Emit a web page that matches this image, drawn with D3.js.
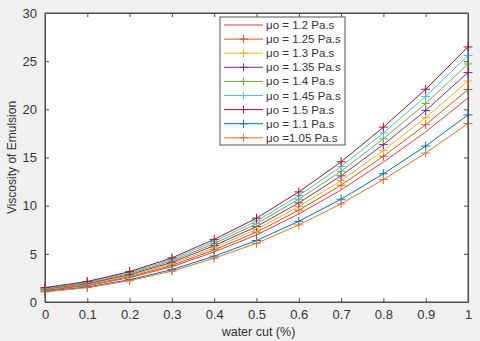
<!DOCTYPE html>
<html><head><meta charset="utf-8">
<script src="https://cdn.jsdelivr.net/npm/d3@7"></script>
<style>
html,body{margin:0;padding:0;background:#f0f0f0;}
svg{display:block;font-family:"Liberation Sans",Arial,sans-serif;}
</style></head>
<body>
<svg id="chart" width="480" height="341"></svg>
<script>
const waterCut = [0, 0.1, 0.2, 0.3, 0.4, 0.5, 0.6, 0.7, 0.8, 0.9, 1];
const xTicks = [0, 0.1, 0.2, 0.3, 0.4, 0.5, 0.6, 0.7, 0.8, 0.9, 1];
const yTicks = [0, 5, 10, 15, 20, 25, 30];
const seriesNames = ["μo = 1.2 Pa.s", "μo = 1.25 Pa.s", "μo = 1.3 Pa.s", "μo = 1.35 Pa.s", "μo = 1.4 Pa.s", "μo = 1.45 Pa.s", "μo = 1.5 Pa.s", "μo = 1.1 Pa.s", "μo =1.05 Pa.s"];
const mu120 = [1.20, 1.70, 2.52, 3.66, 5.20, 6.96, 9.14, 11.64, 14.52, 17.66, 21.18];
const mu125 = [1.25, 1.78, 2.63, 3.81, 5.41, 7.25, 9.53, 12.13, 15.13, 18.40, 22.06];
const mu130 = [1.30, 1.85, 2.73, 3.97, 5.63, 7.54, 9.91, 12.61, 15.73, 19.14, 22.95];
const mu135 = [1.35, 1.92, 2.84, 4.12, 5.85, 7.83, 10.29, 13.10, 16.34, 19.87, 23.83];
const mu140 = [1.40, 1.99, 2.94, 4.27, 6.06, 8.12, 10.67, 13.58, 16.94, 20.61, 24.71];
const mu145 = [1.45, 2.06, 3.05, 4.42, 6.28, 8.41, 11.05, 14.07, 17.55, 21.34, 25.59];
const mu150 = [1.50, 2.13, 3.15, 4.58, 6.50, 8.70, 11.43, 14.55, 18.15, 22.08, 26.48];
const mu110 = [1.10, 1.56, 2.31, 3.36, 4.76, 6.38, 8.38, 10.67, 13.31, 16.19, 19.42];
const mu105 = [1.05, 1.49, 2.21, 3.20, 4.55, 6.09, 8.00, 10.19, 12.71, 15.46, 18.53];
const seriesValues = [mu120, mu125, mu130, mu135, mu140, mu145, mu150, mu110, mu105];
const seriesColors = ["#ef3b3e", "#D95319", "#EDB120", "#7E2F8E", "#77AC30", "#4DBEEE", "#A2142F", "#0072BD", "#E8722E"];
const seriesMarker = [false, true, true, true, true, true, true, true, true];

const svg = d3.select("#chart");
const L = 45, R = 468, T = 13, B = 302;
const x = d3.scaleLinear().domain([0, 1]).range([L, R]);
const y = d3.scaleLinear().domain([0, 30]).range([B, T]);
const axisCol = "#4d4d4d";

svg.append("rect").attr("x", L).attr("y", T).attr("width", R - L).attr("height", B - T).attr("fill", "#fff");

const fmtX = d => d === 0 ? "0" : d === 1 ? "1" : d3.format(".1f")(d);
const gx = svg.append("g").attr("transform", `translate(0,${B})`)
  .call(d3.axisBottom(x).tickValues(xTicks).tickFormat(fmtX).tickSizeInner(-4).tickSizeOuter(0).tickPadding(8));
const gxt = svg.append("g").attr("transform", `translate(0,${T})`)
  .call(d3.axisTop(x).tickValues(xTicks).tickFormat("").tickSizeInner(-4).tickSizeOuter(0));
const gy = svg.append("g").attr("transform", `translate(${L},0)`)
  .call(d3.axisLeft(y).tickValues(yTicks).tickSizeInner(-4).tickSizeOuter(0).tickPadding(8));
const gyr = svg.append("g").attr("transform", `translate(${R},0)`)
  .call(d3.axisRight(y).tickValues(yTicks).tickFormat("").tickSizeInner(-4).tickSizeOuter(0));
[gx, gxt, gy, gyr].forEach(g => {
  g.selectAll("path").attr("stroke", axisCol).attr("stroke-width", 1);
  g.selectAll("line").attr("stroke", axisCol);
  g.selectAll("text").attr("fill", "#333").attr("font-size", 13).attr("font-family", "Liberation Sans, Arial, sans-serif");
});

const line = d3.line().x((d, i) => x(waterCut[i])).y(d => y(d));
seriesValues.forEach((vals, k) => {
  const g = svg.append("g");
  g.append("path").attr("d", line(vals)).attr("fill", "none").attr("stroke", seriesColors[k]).attr("stroke-width", 1);
  if (seriesMarker[k]) {
    g.selectAll("path.m").data(vals).enter().append("path").attr("class", "m")
      .attr("d", (d, i) => {
        const cx = x(waterCut[i]), cy = y(d), s = 4.5;
        return `M${cx - s},${cy}H${cx + s}M${cx},${cy - s}V${cy + s}`;
      })
      .attr("stroke", seriesColors[k]).attr("stroke-width", 1);
  }
});

svg.append("rect").attr("x", L).attr("y", T).attr("width", R - L).attr("height", B - T)
  .attr("fill", "none").attr("stroke", axisCol).attr("stroke-width", 1);

svg.append("text").attr("x", (L + R) / 2 + 2).attr("y", 336).attr("text-anchor", "middle")
  .attr("font-size", 12.5).attr("fill", "#333").text("water cut (%)");
svg.append("text").attr("transform", `translate(16,${(T + B) / 2}) rotate(-90)`).attr("text-anchor", "middle")
  .attr("font-size", 12).attr("fill", "#333").text("Viscosity of Emulsion");

const lg = svg.append("g");
const lx = 220, ly = 17, lw = 125, lh = 128;
lg.append("rect").attr("x", lx).attr("y", ly).attr("width", lw).attr("height", lh)
  .attr("fill", "#fff").attr("stroke", "#555").attr("stroke-width", 1);
seriesNames.forEach((name, k) => {
  const yy = ly + 8 + k * 14.1;
  lg.append("line").attr("x1", lx + 4).attr("x2", lx + 43).attr("y1", yy).attr("y2", yy)
    .attr("stroke", seriesColors[k]).attr("stroke-width", 1);
  if (seriesMarker[k]) {
    const cx = lx + 23.5;
    lg.append("path").attr("d", `M${cx - 4},${yy}H${cx + 4}M${cx},${yy - 4}V${yy + 4}`)
      .attr("stroke", seriesColors[k]).attr("stroke-width", 1);
  }
  lg.append("text").attr("x", lx + 46).attr("y", yy + 4).attr("font-size", 11.5).attr("fill", "#333").text(name);
});
</script>
</body></html>
